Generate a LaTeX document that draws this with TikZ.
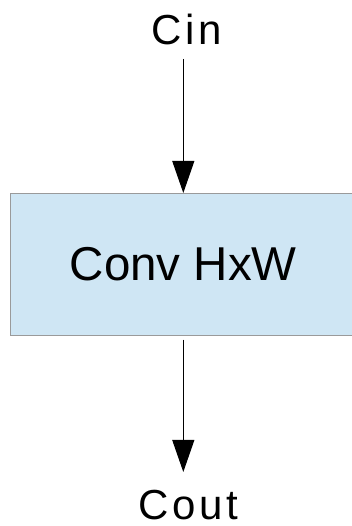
\documentclass[tikz,border=0pt]{standalone}
\usepackage{fontspec}
\setmainfont{Liberation Sans}
\usetikzlibrary{arrows.meta}
\definecolor{boxfill}{HTML}{CFE6F4}
\definecolor{boxline}{HTML}{9A9A9A}
\newcommand{\gapk}{\kern3.9pt}
\tikzset{
  convbox/.style={draw=boxline, line width=1pt, fill=boxfill, minimum width=346pt, minimum height=142.2pt, inner sep=0pt, font=\fontsize{47.5pt}{47.5pt}\selectfont},
  label/.style={inner sep=0pt, anchor=base, text depth=0pt, font=\fontsize{42pt}{42pt}\selectfont},
  flow/.style={line width=1pt, -{Triangle[width=22pt,length=32pt]}}
}
\begin{document}
\begin{tikzpicture}[x=1pt,y=1pt]
\useasboundingbox (0,0) rectangle (352,526);
\clip (0,0) rectangle (352,526);
\node[label] (cin) at (186.7,481.5) {C\gapk i\gapk n};
\node[convbox] (conv) at (183.3,261.4) {Conv HxW};
\node[label] (cout) at (188.3,6.5) {C\gapk o\gapk u\gapk t};
\coordinate (inS) at (183.3,467);
\coordinate (outE) at (183.3,54);
\draw[flow] (inS) -- (conv.north);
\draw[flow] ([yshift=-3.5pt]conv.south) -- (outE);
\end{tikzpicture}
\end{document}
